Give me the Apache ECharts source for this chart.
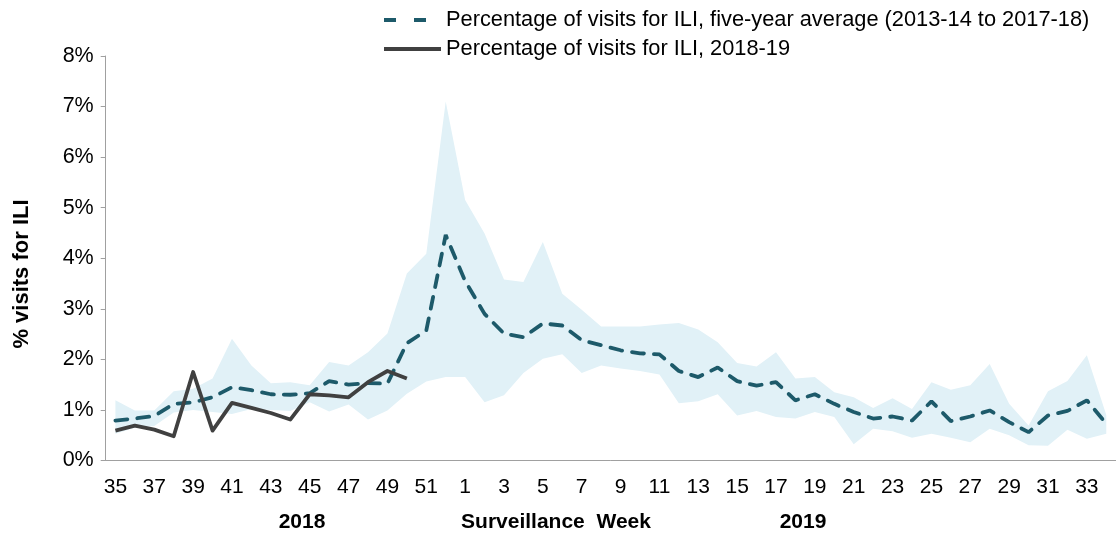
<!DOCTYPE html>
<html>
<head>
<meta charset="utf-8">
<script src="https://cdn.jsdelivr.net/npm/echarts@6/dist/echarts.min.js"></script>
<style>
  html, body { margin: 0; padding: 0; background: #fff; }
  #chart { width: 1116px; height: 534px; }
</style>
</head>
<body>
<div id="chart"></div>
<script>
// surveillance weeks, 2018-19 season
var weeks = ['35','36','37','38','39','40','41','42','43','44','45','46','47','48','49','50','51','52',
  '1','2','3','4','5','6','7','8','9','10','11','12','13','14','15','16','17',
  '18','19','20','21','22','23','24','25','26','27','28','29','30','31','32','33','34'];

// five-year average (2013-14 to 2017-18), %
var avg5 = [0.79,0.83,0.88,1.12,1.15,1.25,1.45,1.39,1.31,1.30,1.33,1.57,1.50,1.53,1.52,2.32,2.57,4.46,
  3.55,2.90,2.51,2.44,2.71,2.67,2.38,2.28,2.18,2.12,2.10,1.77,1.65,1.84,1.57,1.48,1.55,
  1.19,1.31,1.12,0.96,0.83,0.87,0.79,1.17,0.78,0.87,0.99,0.76,0.56,0.89,0.98,1.19,0.73];

// 2018-19 season, %
var cur = [0.59,0.69,0.61,0.48,1.75,0.59,1.14,1.04,0.94,0.81,1.31,1.29,1.25,1.55,1.77,1.62];

// range of the five previous seasons, %
var upper = [1.19,0.99,0.99,1.37,1.42,1.62,2.41,1.88,1.53,1.55,1.49,1.95,1.88,2.14,2.51,3.70,4.09,
  7.10,5.15,4.49,3.58,3.53,4.32,3.30,2.98,2.65,2.65,2.65,2.69,2.72,2.59,2.34,
  1.93,1.86,2.14,1.62,1.65,1.35,1.25,1.04,1.23,1.02,1.55,1.40,1.49,1.91,1.12,0.69,1.37,1.57,2.08,0.90];
var lower = [0.53,0.65,0.68,0.95,1.00,0.96,0.92,1.02,1.00,0.98,1.15,0.97,1.11,0.81,0.99,1.32,1.56,
  1.65,1.65,1.15,1.29,1.73,2.01,2.10,1.73,1.88,1.82,1.77,1.70,1.13,1.17,1.31,
  0.89,0.98,0.86,0.83,0.96,0.86,0.32,0.63,0.58,0.45,0.53,0.45,0.36,0.63,0.50,0.30,0.29,0.61,0.43,0.53];

var avgName = 'Percentage of visits for ILI, five-year average (2013-14 to 2017-18)';
var curName = 'Percentage of visits for ILI, 2018-19';

var font = 'Liberation Sans, Arial, sans-serif';

// band height for the stacked area
var spread = [];
for (var i = 0; i < upper.length; i++) {
  spread[i] = +(upper[i] - lower[i]).toFixed(2);
}

var option = {
  animation: false,
  backgroundColor: '#fff',
  textStyle: { fontFamily: font },
  grid: { left: 105.7, right: -9.9, top: 56, bottom: 73.5, containLabel: false },
  legend: {
    orient: 'vertical',
    left: 382,
    top: 9,
    padding: 0,
    itemWidth: 57,
    itemHeight: 14,
    itemGap: 7,
    itemStyle: { opacity: 0 },
    textStyle: { fontSize: 21.8, color: '#000', fontFamily: font, lineHeight: 22 },
    data: [
      { name: avgName, lineStyle: { type: [12, 18], width: 4, cap: 'butt' } },
      { name: curName, lineStyle: { width: 4 } }
    ]
  },
  xAxis: {
    type: 'category',
    data: weeks,
    boundaryGap: true,
    axisLine: { lineStyle: { color: '#a0a0a0', width: 1 } },
    axisTick: { interval: 0, length: 6, lineStyle: { color: '#a0a0a0' } },
    axisLabel: { interval: 1, color: '#000', fontSize: 21, margin: 16, fontFamily: font },
    splitLine: { show: false }
  },
  yAxis: {
    type: 'value',
    min: 0,
    max: 8,
    interval: 1,
    axisLine: { show: true, lineStyle: { color: '#a0a0a0', width: 1 } },
    axisTick: { show: true, length: 5, lineStyle: { color: '#a0a0a0' } },
    axisLabel: { formatter: '{value}%', color: '#000', fontSize: 21.5, margin: 12, fontFamily: font },
    splitLine: { show: false }
  },
  series: [
    {
      name: 'range-low',
      type: 'line',
      stack: 'band',
      data: lower,
      symbol: 'none',
      lineStyle: { opacity: 0 },
      silent: true,
      z: 1
    },
    {
      name: 'range',
      type: 'line',
      stack: 'band',
      data: spread,
      symbol: 'none',
      lineStyle: { opacity: 0 },
      areaStyle: { color: '#e1f1f7', opacity: 1 },
      silent: true,
      z: 1
    },
    {
      name: avgName,
      type: 'line',
      data: avg5,
      symbol: 'none',
      color: '#1d5a6a',
      lineStyle: { color: '#1d5a6a', width: 3.8, type: [12, 10], cap: 'round' },
      z: 3
    },
    {
      name: curName,
      type: 'line',
      data: cur,
      symbol: 'none',
      color: '#404040',
      lineStyle: { color: '#404040', width: 3.8, join: 'round' },
      z: 4
    }
  ],
  graphic: [
    // y axis title
    { type: 'text', x: 21.5, y: 274, rotation: Math.PI / 2, style: { text: '% visits for ILI', font: 'bold 22px ' + font, fill: '#000', align: 'center', verticalAlign: 'middle' } },
    // x axis titles
    { type: 'text', x: 302, y: 522, style: { text: '2018', font: 'bold 21px ' + font, fill: '#000', align: 'center', verticalAlign: 'middle' } },
    { type: 'text', x: 556, y: 522, style: { text: 'Surveillance  Week', font: 'bold 21px ' + font, fill: '#000', align: 'center', verticalAlign: 'middle' } },
    { type: 'text', x: 803, y: 522, style: { text: '2019', font: 'bold 21px ' + font, fill: '#000', align: 'center', verticalAlign: 'middle' } }
  ]
};

var chart = echarts.init(document.getElementById('chart'));
chart.setOption(option);
</script>
</body>
</html>
